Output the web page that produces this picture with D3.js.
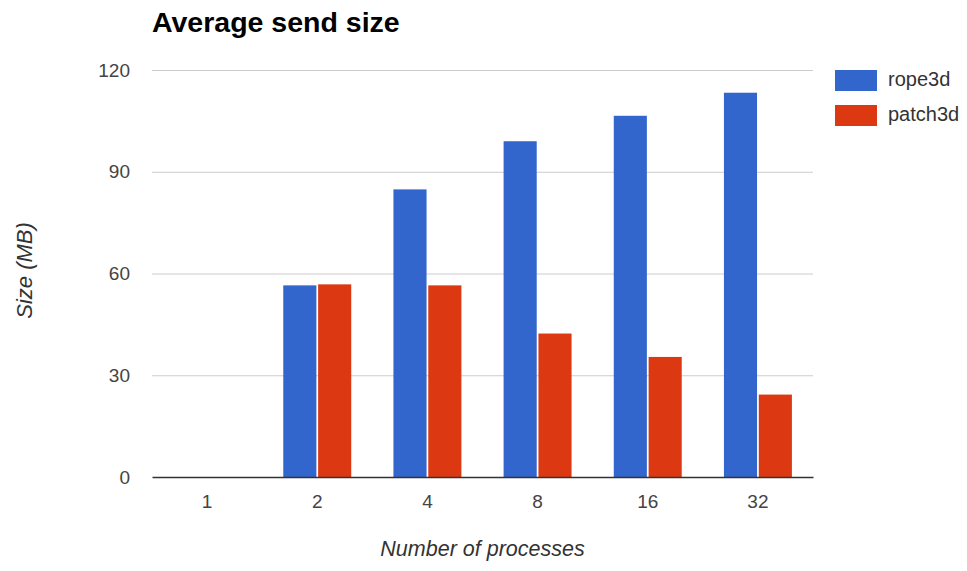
<!DOCTYPE html>
<html>
<head>
<meta charset="utf-8">
<script src="https://cdn.jsdelivr.net/npm/d3@7"></script>
<style>
  html, body { margin: 0; padding: 0; background: #fff; }
  svg { display: block; font-family: "Liberation Sans", Arial, sans-serif; }
</style>
</head>
<body>
<svg id="chart" width="967" height="571"></svg>
<script>
// Average send size per process count
const categories = ["1", "2", "4", "8", "16", "32"];
const seriesNames = ["rope3d", "patch3d"];
const rope3d = [null, 56.5, 84.8, 99.0, 106.5, 113.3];
const patch3d = [null, 56.8, 56.5, 42.3, 35.4, 24.3];
const yTicks = [0, 30, 60, 90, 120];
const colors = ["#3366cc", "#dc3912"];

const svg = d3.select("#chart");
const margin = { left: 152, right: 154, top: 70, bottom: 94 };
const W = 967, H = 571;
const plotW = W - margin.left - margin.right;
const plotH = H - margin.top - margin.bottom;

const x0 = d3.scaleBand().domain(categories)
  .range([margin.left, margin.left + plotW])
  .paddingInner(0.383).paddingOuter(0.1915);
const x1 = d3.scaleBand().domain(seriesNames)
  .range([0, x0.bandwidth()]).paddingInner(0.05);
const y = d3.scaleLinear().domain([0, 120]).range([margin.top + plotH, margin.top]);

// Title
svg.append("text")
  .attr("x", 152).attr("y", 32)
  .attr("font-size", 28.5).attr("font-weight", "bold").attr("fill", "#000")
  .text("Average send size");

// Horizontal gridlines
svg.append("g")
  .selectAll("line").data(yTicks.filter(d => d !== 0)).join("line")
  .attr("x1", margin.left).attr("x2", margin.left + plotW)
  .attr("y1", d => y(d) + 0.5).attr("y2", d => y(d) + 0.5)
  .attr("stroke", "#cccccc").attr("stroke-width", 1);

// Y axis labels
const yAxis = d3.axisLeft(y).tickValues(yTicks).tickSize(0).tickPadding(22);
svg.append("g").attr("transform", `translate(${margin.left},0)`)
  .call(yAxis)
  .call(g => g.select(".domain").remove())
  .call(g => g.selectAll("text").attr("font-size", 19).attr("fill", "#444")
    .attr("font-family", "Liberation Sans, Arial, sans-serif"));

// Bars
const rows = categories.map((c, i) => ({ cat: c, values: [rope3d[i], patch3d[i]] }));
const groups = svg.append("g").selectAll("g").data(rows).join("g")
  .attr("transform", d => `translate(${x0(d.cat)},0)`);
groups.selectAll("rect")
  .data(d => d.values.map((v, j) => ({ key: seriesNames[j], v, j })).filter(e => e.v != null))
  .join("rect")
  .attr("x", d => x1(d.key))
  .attr("width", x1.bandwidth())
  .attr("y", d => y(d.v))
  .attr("height", d => y(0) - y(d.v))
  .attr("fill", d => colors[d.j]);

// X axis baseline and labels
const xAxis = d3.axisBottom(x0).tickSize(0).tickPadding(18);
svg.append("g").attr("transform", `translate(0,${y(0)})`)
  .call(xAxis)
  .call(g => g.select(".domain").attr("stroke", "#333").attr("stroke-width", 1.5))
  .call(g => g.selectAll("text").attr("font-size", 19).attr("fill", "#444")
    .attr("font-family", "Liberation Sans, Arial, sans-serif"));

// Axis titles
svg.append("text")
  .attr("x", margin.left + plotW / 2).attr("y", 556)
  .attr("text-anchor", "middle").attr("font-size", 21.5)
  .attr("font-style", "italic").attr("fill", "#333")
  .text("Number of processes");
svg.append("text")
  .attr("transform", `translate(32,${margin.top + plotH / 2 - 3}) rotate(-90)`)
  .attr("text-anchor", "middle").attr("font-size", 22)
  .attr("font-style", "italic").attr("fill", "#333")
  .text("Size (MB)");

// Legend
const legend = svg.append("g").selectAll("g").data(seriesNames).join("g")
  .attr("transform", (d, i) => `translate(835,${70 + i * 35})`);
legend.append("rect").attr("width", 42).attr("height", 21)
  .attr("fill", (d, i) => colors[i]);
legend.append("text").attr("x", 53).attr("y", 16)
  .attr("font-size", 20).attr("fill", "#333").text(d => d);
</script>
</body>
</html>
